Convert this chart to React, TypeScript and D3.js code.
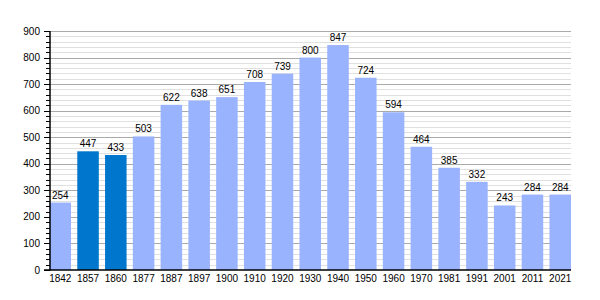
import React from "react";
import * as d3 from "d3";

const years = ["1842","1857","1860","1877","1887","1897","1900","1910","1920","1930","1940","1950","1960","1970","1981","1991","2001","2011","2021"];
const population = [254,447,433,503,622,638,651,708,739,800,847,724,594,464,385,332,243,284,284];
const highlighted = ["1857","1860"];
const yMajorTicks = [0,100,200,300,400,500,600,700,800,900];

const W = 600, H = 300;
const LEFT = 50, RIGHT = 571, TOP = 31, BOTTOM = 270;
const LIGHT = "#99b3ff";
const DARK = "#0077cc";
const FONT = "'Liberation Sans', Arial, sans-serif";

export default function App() {
  const x = d3.scaleBand<string>().domain(years).range([49.5, RIGHT]).paddingInner(0.225).paddingOuter(0);
  const y = d3.scaleLinear().domain([0, 900]).range([BOTTOM, TOP]);
  const minor = d3.range(0, 901, 20).filter((v) => v % 100 !== 0);

  return (
    <svg width={W} height={H} style={{ position: "absolute", left: 0, top: 0 }} fontFamily={FONT}>
      <rect x={0} y={0} width={W} height={H} fill="#fff" />
      {minor.map((v) => (
        <line key={"mg" + v} x1={LEFT} x2={RIGHT} y1={Math.round(y(v)) + 0.5} y2={Math.round(y(v)) + 0.5} stroke="#e0e0e0" strokeWidth={1} />
      ))}
      {yMajorTicks.filter((v) => v > 0).map((v) => (
        <line key={"Mg" + v} x1={LEFT} x2={RIGHT} y1={Math.round(y(v)) + 0.5} y2={Math.round(y(v)) + 0.5} stroke="#aaaaaa" strokeWidth={1} />
      ))}
      {years.map((yr, i) => (
        <rect key={yr} x={x(yr)} y={y(population[i])} width={x.bandwidth()} height={BOTTOM - y(population[i])} fill={highlighted.includes(yr) ? DARK : LIGHT} />
      ))}
      {years.map((yr, i) => (
        <text key={"v" + yr} x={(x(yr) as number) + x.bandwidth() / 2} y={y(population[i]) - 4} textAnchor="middle" fontSize={10} fill="#000">{population[i]}</text>
      ))}
      {years.map((yr) => (
        <text key={"x" + yr} x={(x(yr) as number) + x.bandwidth() / 2} y={282} textAnchor="middle" fontSize={10} fill="#000">{yr}</text>
      ))}
      {minor.map((v) => (
        <line key={"mt" + v} x1={LEFT - 4} x2={LEFT} y1={Math.round(y(v)) + 0.5} y2={Math.round(y(v)) + 0.5} stroke="#000" strokeWidth={1} />
      ))}
      {yMajorTicks.map((v) => (
        <line key={"Mt" + v} x1={LEFT - 6} x2={LEFT} y1={Math.round(y(v)) + 0.5} y2={Math.round(y(v)) + 0.5} stroke="#000" strokeWidth={1} />
      ))}
      {yMajorTicks.map((v) => (
        <text key={"yl" + v} x={40} y={y(v)} dy="0.35em" textAnchor="end" fontSize={10} fill="#000">{v}</text>
      ))}
      <line x1={50} x2={50} y1={TOP} y2={BOTTOM + 0.5} stroke="#000" strokeWidth={1.5} />
      <line x1={LEFT - 6} x2={RIGHT} y1={BOTTOM} y2={BOTTOM} stroke="#000" strokeWidth={1.5} />
    </svg>
  );
}
